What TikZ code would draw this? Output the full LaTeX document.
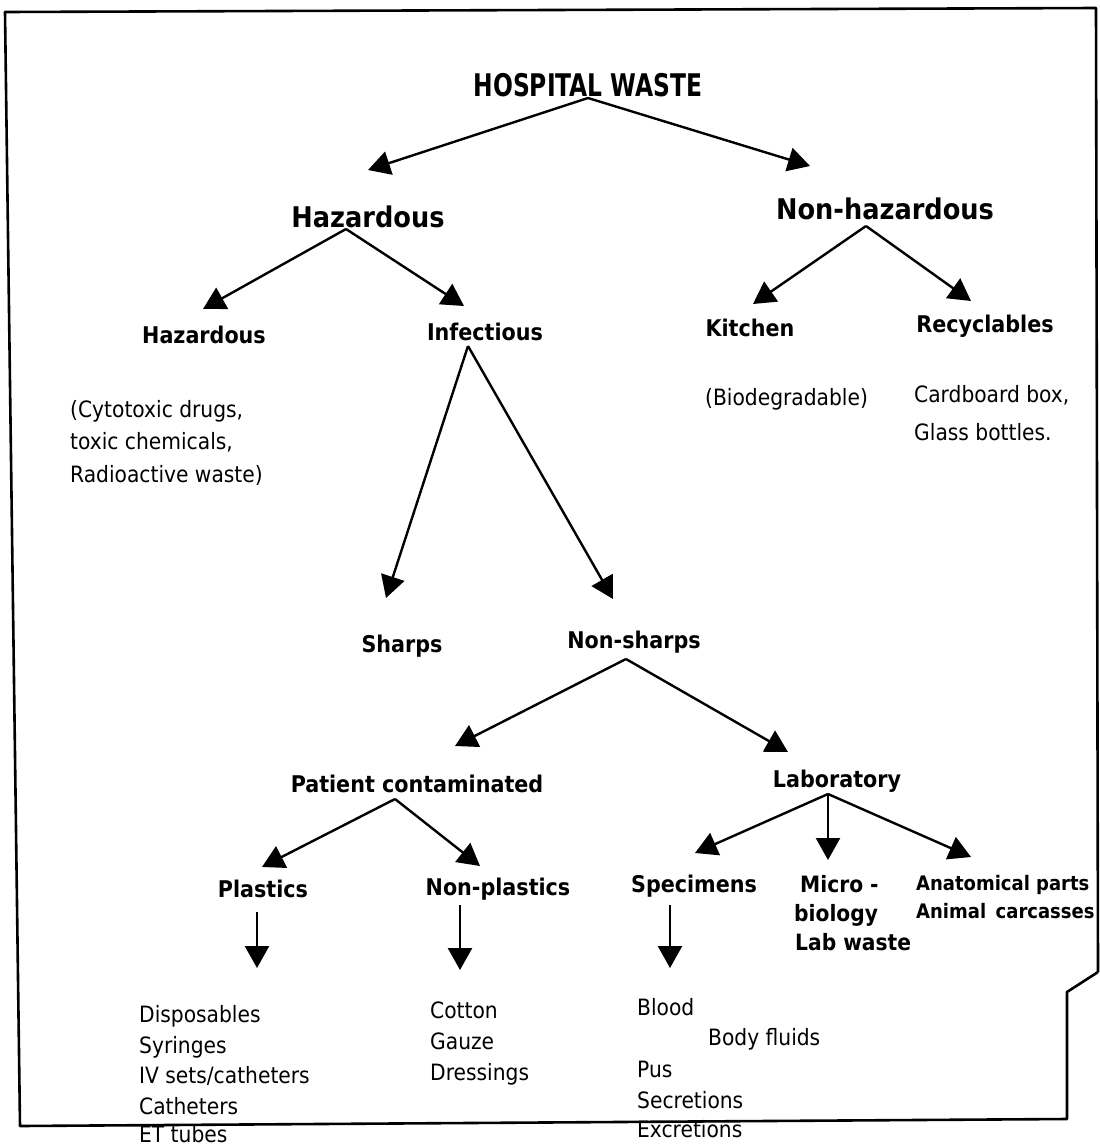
\documentclass[tikz,border=0pt]{standalone}
\usepackage{fontspec}
\setmainfont{DejaVu Sans Condensed}
\usetikzlibrary{arrows.meta}
\begin{document}
\begin{tikzpicture}[x=1pt,y=-1pt,
  lbl/.style={inner sep=0pt,anchor=base,font=\fontsize{23}{26}\selectfont\bfseries},
  top/.style={inner sep=0pt,anchor=base,font=\fontsize{28.5}{32}\selectfont\bfseries},
  lst/.style={inner sep=0pt,anchor=base west,font=\fontsize{22.5}{26}\selectfont},
  arr/.style={line width=2.4pt,-{Triangle[length=22pt,width=24pt]}},
  frame/.style={line width=2.6pt,line join=round}]
\useasboundingbox (0,0) rectangle (1100,1144);
% frame
\draw[frame] (1098,972) -- (1096,8) -- (5,12) -- (20,1126) -- (1067,1119) -- (1067,992) -- (1098,972);
% titles
\node[inner sep=0pt,anchor=base,font=\fontsize{26}{30}\selectfont\bfseries] (hw) at (588,96) {\scalebox{1}[1.2]{HOSPITAL WASTE}};
\node[top] (haz) at (368,227) {Hazardous};
\node[top] (nhaz) at (885,219) {Non-hazardous};
% level 2
\node[lbl] (haz2) at (204,343) {Hazardous};
\node[lbl] (inf) at (485,340) {Infectious};
\node[lbl] (kit) at (750,336) {Kitchen};
\node[lbl] (rec) at (985,332) {Recyclables};
\node[lst] (cyt1) at (70,417) {(Cytotoxic drugs,};
\node[lst] (cyt2) at (70,449) {toxic chemicals,};
\node[lst] (cyt3) at (70,482) {Radioactive waste)};
\node[lst] (bio) at (705,405) {(Biodegradable)};
\node[lst] (card) at (914,402) {Cardboard box,};
\node[lst] (glass) at (914,440) {Glass bottles.};
% level 3
\node[lbl] (sha) at (402,652) {Sharps};
\node[lbl] (nsha) at (634,648) {Non-sharps};
\node[lbl] (pat) at (417,792) {Patient contaminated};
\node[lbl] (lab) at (837,787) {Laboratory};
\node[lbl] (pla) at (263,897) {Plastics};
\node[lbl] (npla) at (498,895) {Non-plastics};
\node[lbl] (spe) at (694,892) {Specimens};
\node[lst,font=\fontsize{22.5}{26}\selectfont\bfseries] (mic1) at (800,892) {Micro -};
\node[lst,font=\fontsize{22.5}{26}\selectfont\bfseries] (mic2) at (794,921) {biology};
\node[lst,font=\fontsize{22.5}{26}\selectfont\bfseries] (mic3) at (795,950) {Lab waste};
\node[lst,font=\fontsize{20}{24}\selectfont\bfseries] (ana1) at (916,890) {Anatomical parts};
\node[lst,font=\fontsize{20}{24}\selectfont\bfseries] (ana2) at (916,918) {Animal\, carcasses};
% lists
\node[lst] (d1) at (139,1022) {Disposables};
\node[lst] (d2) at (139,1053) {Syringes};
\node[lst] (d3) at (139,1083) {IV sets/catheters};
\node[lst] (d4) at (139,1114) {Catheters};
\node[lst] (d5) at (139,1142) {ET tubes};
\node[lst] (c1) at (430,1018) {Cotton};
\node[lst] (c2) at (430,1049) {Gauze};
\node[lst] (c3) at (430,1080) {Dressings};
\node[lst] (b1) at (637,1015) {Blood};
\node[lst] (b2) at (708,1045) {Body fluids};
\node[lst] (b3) at (637,1077) {Pus};
\node[lst] (b4) at (637,1108) {Secretions};
\node[lst] (b5) at (637,1137) {Excretions};
% connector points
\coordinate (hwS) at (588,98);
\coordinate (hazT) at (368,170);
\coordinate (nhazT) at (810,166);
\coordinate (hazS) at (346,229);
\coordinate (haz2T) at (203,309);
\coordinate (infT) at (464,306);
\coordinate (nhazS) at (866,226);
\coordinate (kitT) at (753,304);
\coordinate (recT) at (971,301);
\coordinate (infS) at (468,346);
\coordinate (shaT) at (386,598);
\coordinate (nshaT) at (613,599);
\coordinate (nshaS) at (626,659);
\coordinate (patT) at (455,746);
\coordinate (labT) at (788,752);
\coordinate (patS) at (395,799);
\coordinate (plaT) at (262,867);
\coordinate (nplaT) at (480,866);
\coordinate (labS) at (828,794);
\coordinate (speT) at (695,853);
\coordinate (micT) at (828,860);
\coordinate (anaT) at (971,857);
\coordinate (plaS) at (257,912);
\coordinate (plaL) at (257,968);
\coordinate (nplaS) at (460,905);
\coordinate (nplaL) at (460,970);
\coordinate (speS) at (670,905);
\coordinate (speL) at (670,968);
% connectors
\draw[arr] (hwS) -- (hazT);
\draw[arr] (hwS) -- (nhazT);
\draw[arr] (hazS) -- (haz2T);
\draw[arr] (hazS) -- (infT);
\draw[arr] (nhazS) -- (kitT);
\draw[arr] (nhazS) -- (recT);
\draw[arr] (infS) -- (shaT);
\draw[arr] (infS) -- (nshaT);
\draw[arr] (nshaS) -- (patT);
\draw[arr] (nshaS) -- (labT);
\draw[arr] (patS) -- (plaT);
\draw[arr] (patS) -- (nplaT);
\draw[arr] (labS) -- (speT);
\draw[arr] (labS) -- (micT);
\draw[arr] (labS) -- (anaT);
\draw[arr] (plaS) -- (plaL);
\draw[arr] (nplaS) -- (nplaL);
\draw[arr] (speS) -- (speL);
\end{tikzpicture}
\end{document}
